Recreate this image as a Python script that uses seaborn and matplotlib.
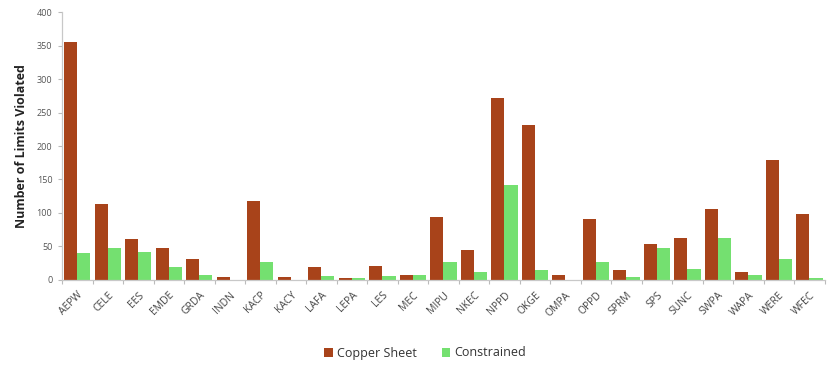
import numpy as np
import pandas as pd
import matplotlib
matplotlib.use("Agg")
import matplotlib.pyplot as plt
import seaborn as sns

regions = ["AEPW", "CELE", "EES", "EMDE", "GRDA", "INDN", "KACP", "KACY", "LAFA",
           "LEPA", "LES", "MEC", "MIPU", "NKEC", "NPPD", "OKGE", "OMPA", "OPPD",
           "SPRM", "SPS", "SUNC", "SWPA", "WAPA", "WERE", "WFEC"]
copper_sheet = [356, 113, 61, 48, 32, 4, 118, 4, 19, 3, 21, 8, 94, 45, 272, 232,
                7, 91, 15, 54, 63, 106, 12, 179, 98]
constrained = [40, 48, 41, 20, 7, 0, 27, 0, 6, 3, 6, 7, 27, 12, 142, 15,
               0, 27, 5, 48, 16, 63, 8, 31, 3]
series_names = ["Copper Sheet", "Constrained"]
y_ticks = [0, 50, 100, 150, 200, 250, 300, 350, 400]

df = pd.DataFrame({
    "Region": regions * 2,
    "Series": [series_names[0]] * len(regions) + [series_names[1]] * len(regions),
    "Limits": copper_sheet + constrained,
})

sns.set_theme(style="white")
plt.rcParams["font.family"] = ["Open Sans", "DejaVu Sans"]

fig = plt.figure(figsize=(8.28, 3.65), dpi=100)
ax = fig.add_axes([0.075, 0.233, 0.921, 0.734])

palette = {series_names[0]: "#A8431A", series_names[1]: "#74E070"}
sns.barplot(data=df, x="Region", y="Limits", hue="Series", order=regions,
            hue_order=series_names, palette=palette, width=0.86, gap=0,
            saturation=1, linewidth=0, ax=ax, legend=True)

ax.set_ylim(0, 400)
ax.set_xlim(-0.5, len(regions) - 0.5)
ax.set_yticks(y_ticks)
ax.set_yticklabels([str(t) for t in y_ticks], fontsize=6.5, color="#555555")
ax.set_xticks(range(len(regions)))
ax.set_xticklabels(regions, rotation=45, ha="right", rotation_mode="anchor",
                   fontsize=7.5, color="#444444")
ax.set_xlabel("")
ax.set_ylabel("Number of Limits Violated", fontsize=9, fontweight="bold",
              color="#222222", labelpad=6)

# category boundary ticks on the x axis
ax.set_xticks(np.arange(-0.5, len(regions), 1), minor=True)
ax.tick_params(axis="x", which="major", length=0, pad=7)
ax.tick_params(axis="x", which="minor", length=3, color="#BBBBBB", width=0.8,
               direction="out", bottom=True)
ax.tick_params(axis="y", which="major", length=3, color="#BBBBBB", width=0.8,
               direction="out", left=True, pad=4)

for side in ["top", "right"]:
    ax.spines[side].set_visible(False)
for side in ["left", "bottom"]:
    ax.spines[side].set_color("#C8C8C8")
    ax.spines[side].set_linewidth(0.9)

leg = ax.legend(loc="center", bbox_to_anchor=(425 / 828, 1 - 353 / 365),
                bbox_transform=fig.transFigure, ncol=2,
                frameon=False, fontsize=9, handlelength=0.7, handleheight=0.7,
                handletextpad=0.3, columnspacing=2.0)
for t in leg.get_texts():
    t.set_color("#333333")

fig.savefig("out.png", dpi=100)
